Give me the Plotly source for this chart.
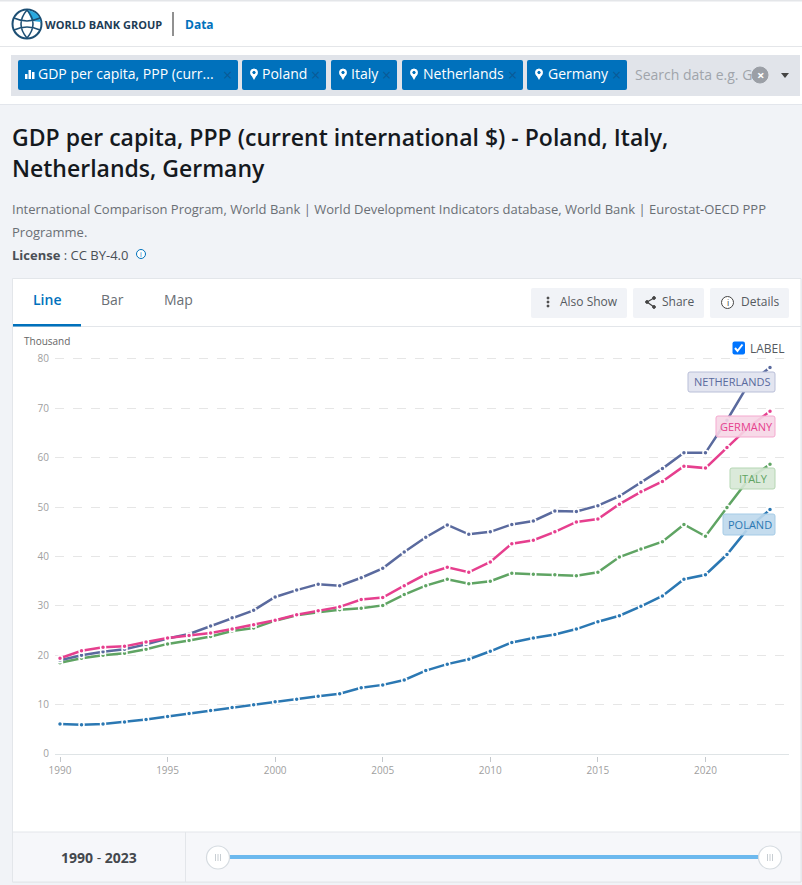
import plotly.graph_objects as go

W = 802
H = 885

years = list(range(1990, 2024))
poland = [6.1, 5.9, 6.1, 6.5, 7.0, 7.6, 8.2, 8.8, 9.4, 10.0, 10.6, 11.1, 11.7, 12.2, 13.4, 14.0, 15.0, 16.9, 18.2, 19.2,
          20.8, 22.6, 23.5, 24.2, 25.3, 26.8, 28.0, 29.9, 32.0, 35.4, 36.3, 40.4, 45.8, 49.5]
italy = [18.5, 19.4, 20.0, 20.4, 21.2, 22.3, 23.0, 23.8, 24.9, 25.5, 27.0, 28.1, 28.7, 29.2, 29.5, 30.1, 32.3, 34.1, 35.4, 34.5,
         35.0, 36.6, 36.4, 36.3, 36.1, 36.8, 39.9, 41.5, 43.0, 46.5, 44.1, 49.9, 55.6, 58.7]
netherlands = [19.0, 20.0, 20.7, 21.2, 22.2, 23.4, 24.3, 25.9, 27.6, 29.1, 31.8, 33.2, 34.4, 34.1, 35.7, 37.6, 40.9, 43.9, 46.4, 44.5,
               45.0, 46.5, 47.2, 49.2, 49.1, 50.3, 52.2, 55.0, 57.8, 61.0, 61.0, 67.6, 74.9, 78.3]
germany = [19.4, 20.9, 21.6, 21.8, 22.7, 23.5, 24.0, 24.5, 25.3, 26.2, 27.1, 28.2, 29.0, 29.8, 31.3, 31.7, 34.1, 36.4, 37.8, 36.8,
           38.9, 42.6, 43.3, 45.0, 47.0, 47.6, 50.6, 53.1, 55.2, 58.3, 57.9, 62.1, 66.2, 69.4]

series_names = ['Poland', 'Italy', 'Netherlands', 'Germany']
series_values = [poland, italy, netherlands, germany]
series_colors = ['#2b78b3', '#5fa463', '#5a6a9e', '#e63f8e']

x_ticks = [1990, 1995, 2000, 2005, 2010, 2015, 2020]
y_ticks = [0, 10, 20, 30, 40, 50, 60, 70, 80]

chips = [('GDP per capita, PPP (curr...', 18, 238, 38), ('Poland', 242, 326, 262), ('Italy', 331, 397, 351),
         ('Netherlands', 402, 523, 423), ('Germany', 527, 627, 548)]

FONT = 'Open Sans'
shapes = []
notes = []


# helpers, everything outside the plot is laid out in window pixels
def px(x):
    return x / W


def py(y):
    return 1 - y / H


def rect(x0, y0, x1, y1, fill, line=None, layer='below'):
    shapes.append(dict(type='rect', xref='paper', yref='paper', x0=px(x0), x1=px(x1), y0=py(y0), y1=py(y1),
                       fillcolor=fill, line=dict(color=line or fill, width=1 if line else 0), layer=layer))


def rrect(x0, y0, x1, y1, r, fill, line=None, layer='below'):
    p = (f'M {px(x0 + r)} {py(y0)} L {px(x1 - r)} {py(y0)} Q {px(x1)} {py(y0)} {px(x1)} {py(y0 + r)} '
         f'L {px(x1)} {py(y1 - r)} Q {px(x1)} {py(y1)} {px(x1 - r)} {py(y1)} L {px(x0 + r)} {py(y1)} '
         f'Q {px(x0)} {py(y1)} {px(x0)} {py(y1 - r)} L {px(x0)} {py(y0 + r)} Q {px(x0)} {py(y0)} {px(x0 + r)} {py(y0)} Z')
    shapes.append(dict(type='path', xref='paper', yref='paper', path=p, fillcolor=fill,
                       line=dict(color=line or fill, width=1 if line else 0), layer=layer))


def circle(cx, cy, r, fill, line=None, width=1, layer='below'):
    shapes.append(dict(type='circle', xref='paper', yref='paper', x0=px(cx - r), x1=px(cx + r), y0=py(cy - r), y1=py(cy + r),
                       fillcolor=fill, line=dict(color=line or fill, width=width), layer=layer))


def seg(x0, y0, x1, y1, color, width=1, layer='below'):
    shapes.append(dict(type='line', xref='paper', yref='paper', x0=px(x0), x1=px(x1), y0=py(y0), y1=py(y1),
                       line=dict(color=color, width=width), layer=layer))


def text(x, y, s, size, color, anchor='left', weight=None):
    f = dict(family=FONT, size=size, color=color)
    if weight:
        f['weight'] = weight
    notes.append(dict(xref='paper', yref='paper', x=px(x), y=py(y), text=s, showarrow=False, xanchor=anchor,
                      yanchor='middle', font=f, borderpad=0, borderwidth=0))


def pin(cx, cy):
    circle(cx, cy - 1.5, 3.5, 'white')
    shapes.append(dict(type='path', xref='paper', yref='paper', fillcolor='white', line=dict(width=0), layer='below',
                       path=f'M {px(cx - 3.4)} {py(cy)} L {px(cx)} {py(cy + 6)} L {px(cx + 3.4)} {py(cy)} Z'))
    circle(cx, cy - 1.5, 1.2, '#0071bc')


##############################
# page chrome
##############################
rect(0, 0, 802, 46, 'white')
rect(0, 0, 802, 1.5, '#e4e6e9')
rect(0, 46, 802, 47, '#e4e6e9')
rect(0, 47, 802, 104, 'white')
rect(0, 104, 802, 105, '#e3e6ec')

# logo
circle(27, 24, 14.5, '#ffffff', '#1d4f74', 2)
shapes.append(dict(type='path', xref='paper', yref='paper', fillcolor='#29a9e0', line=dict(width=0), layer='below',
                   path=f'M {px(27)} {py(10)} Q {px(38)} {py(11)} {px(41)} {py(22)} L {px(32)} {py(21)} Z'))
shapes.append(dict(type='path', xref='paper', yref='paper', fillcolor='rgba(0,0,0,0)', line=dict(color='#1d4f74', width=1.5), layer='below',
                   path=f'M {px(27)} {py(10)} Q {px(15)} {py(24)} {px(27)} {py(38)} M {px(27)} {py(10)} Q {px(39)} {py(24)} {px(27)} {py(38)} '
                        f'M {px(14)} {py(18)} Q {px(27)} {py(24)} {px(40)} {py(18)} M {px(14)} {py(30)} Q {px(27)} {py(24)} {px(40)} {py(30)}'))
text(45, 24, 'WORLD BANK GROUP', 11, '#1d3c55', weight=700)
seg(173, 12, 173, 36, '#222222')
text(185, 24, 'Data', 12, '#0071bc', weight=700)

# search bar
rect(11, 55, 800, 96, '#e1e4ea')
for label, x0, x1, tx in chips:
    rrect(x0, 60, x1, 90, 2, '#0071bc')
    text(tx, 74, label, 14, '#ffffff')
    text(x1 - 10.5, 75, '×', 16, '#0a5a96', anchor='center')
for bx, bh in zip([25, 28.5, 32], [5, 9, 7]):
    rect(bx, 79 - bh, bx + 2.5, 79, 'white')
for cx in [254, 343, 414, 539]:
    pin(cx, 74)
text(635, 74.5, 'Search data e.g. G', 14, '#a0a4ab')
rect(751, 60, 768, 90, '#e1e4ea', layer='above')
circle(760, 75, 8, '#9b9fa6', layer='above')
text(760, 75, '×', 13, '#ffffff', anchor='center', weight=700)
shapes.append(dict(type='path', xref='paper', yref='paper', fillcolor='#444444', line=dict(width=0), layer='below',
                   path=f'M {px(781)} {py(73)} L {px(789)} {py(73)} L {px(785)} {py(78)} Z'))

# heading
text(12, 137, 'GDP per capita, PPP (current international $) - Poland, Italy,', 23, '#15191e', weight=600)
text(12, 168, 'Netherlands, Germany', 23, '#15191e', weight=600)
text(12, 209, 'International Comparison Program, World Bank | World Development Indicators database, World Bank | Eurostat-OECD PPP', 13, '#6a6f75')
text(12, 232, 'Programme.', 13, '#6a6f75')
text(12, 255, '<b>License</b> : CC BY-4.0', 13, '#4a4f55')
circle(141, 254, 4.5, 'white', '#0071bc')
text(141, 254, 'i', 7, '#0071bc', anchor='center')

# card
rect(12.5, 278.5, 801, 882, 'white', '#e3e6ea')
rect(13, 326, 801, 327, '#e3e6ea')
rect(13, 324, 81, 326.5, '#0071bc')
text(33, 299.5, 'Line', 14, '#0071bc', weight=600)
text(101, 299.5, 'Bar', 14, '#6a6f75')
text(164, 299.5, 'Map', 14, '#6a6f75')
for x0, x1, label, tx in [(531, 627, 'Also Show', 560), (633, 704, 'Share', 662), (710, 789, 'Details', 741)]:
    rrect(x0, 288, x1, 318, 2, '#f1f3f7')
    text(tx, 301.5, label, 12, '#555a60')
for dy in [298, 302, 306]:
    circle(548, dy, 1, '#444444')
shapes.append(dict(type='path', xref='paper', yref='paper', fillcolor='rgba(0,0,0,0)', line=dict(color='#444444', width=1.2), layer='below',
                   path=f'M {px(654)} {py(298)} L {px(647)} {py(302)} L {px(654)} {py(307)}'))
circle(654, 298, 1.4, '#444444')
circle(647, 302, 1.4, '#444444')
circle(654, 307, 1.4, '#444444')
circle(727.5, 302.5, 6, 'white', '#444444')
text(727.5, 302.5, 'i', 9, '#444444', anchor='center')

text(24, 341, 'Thousand', 10, '#666666')
rrect(732.5, 341.5, 745, 354.5, 2, '#0075ff')
shapes.append(dict(type='path', xref='paper', yref='paper', fillcolor='rgba(0,0,0,0)', line=dict(color='white', width=2), layer='below',
                   path=f'M {px(735)} {py(348)} L {px(737.5)} {py(351)} L {px(742.5)} {py(344.5)}'))
text(750, 348, 'LABEL', 12, '#555a60')

# ticks hang a little below the axis line
rect(55, 755, 789, 757, 'white', layer='above')

# footer with the year slider
rect(12.5, 832, 801, 882, '#f6f7fa', '#e3e6ea')
seg(185.5, 832, 185.5, 882, '#e3e6ea')
text(99, 857, '<b>1990</b> - <b>2023</b>', 14, '#44484d', anchor='center')
rect(229, 855, 760, 859, '#6cb9ee')
for hx in [218, 770]:
    circle(hx, 857.5, 11.5, 'white', '#d5dbe0', 1.2)
    for m in [-2.5, 0, 2.5]:
        seg(hx + m, 854, hx + m, 861, '#c8ced3')

# end of line labels
end_labels = [('NETHERLANDS', 688, 775, 372, 392, '#e3e5f0', '#b9bfd8', '#5a6a9e'),
              ('GERMANY', 716, 775, 416, 437, 'rgba(246,214,229,0.9)', '#f5a9cf', '#e63f8e'),
              ('ITALY', 730, 775, 468, 489, 'rgba(215,232,214,0.9)', '#b5d6b3', '#5fa463'),
              ('POLAND', 723, 775, 514, 535, 'rgba(190,216,236,0.9)', '#a5cbe6', '#2b78b3')]
for label, x0, x1, y0, y1, fill, border, col in end_labels:
    rrect(x0, y0, x1, y1, 2, fill, border, layer='above')
    text((x0 + x1) / 2 + 0.5, (y0 + y1) / 2, label, 11, col, anchor='center')

fig = go.Figure()
for name, vals, col in zip(series_names, series_values, series_colors):
    fig.add_trace(go.Scatter(x=years, y=vals, name=name, mode='lines+markers',
                             line=dict(color=col, width=2.5),
                             marker=dict(color=col, size=5, line=dict(color='white', width=1.5))))

# the plot sits at fixed pixels, 1990 at x=60, 2023 at x=770, 0 at y=754, 80 at y=359
# y range runs a bit past 80 so that the top gridline still gets drawn
per_year = (770 - 60) / 33
per_unit = (754 - 359) / 80
y_top = 82
fig.update_layout(
    width=W, height=H, autosize=False, showlegend=False,
    paper_bgcolor='#f1f3f7', plot_bgcolor='rgba(0,0,0,0)',
    # autoexpand off, otherwise the edge annotations push the margins in by a few px
    margin=dict(l=0, r=0, t=0, b=0, autoexpand=False),
    font=dict(family=FONT),
    shapes=shapes, annotations=notes,
    xaxis=dict(domain=[px(55), px(789)], range=[1990 - 5 / per_year, 2023 + 19 / per_year],
               tickvals=x_ticks, ticks='outside', ticklen=6, tickcolor='#c4c8cc', tickwidth=1,
               showline=True, linecolor='#dfe4e6', linewidth=1.5, showgrid=False, zeroline=False,
               tickfont=dict(size=10, color='#a0a0a0', family=FONT)),
    yaxis=dict(domain=[py(754), py(754 - y_top * per_unit)], range=[0, y_top], tickvals=y_ticks, ticks='', showline=False,
               gridcolor='#e6e6e6', griddash='dash', gridwidth=1, zeroline=False, ticklabelstandoff=5,
               tickfont=dict(size=10, color='#a0a0a0', family=FONT)),
)

# pin the plot to the window corner, the browser's default body margin pushes it in otherwise
pin_js = ("var d=document.getElementById('{plot_id}');"
          "document.documentElement.style.overflow='hidden';document.body.style.margin='0';"
          "d.style.position='fixed';d.style.left='0';d.style.top='0';")
fig.write_html('out.html', post_script=pin_js, config=dict(displayModeBar=False))
